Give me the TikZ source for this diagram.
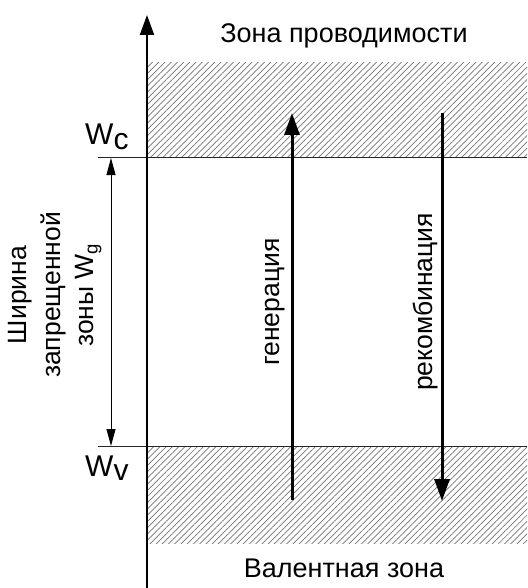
\documentclass[tikz,border=0pt]{standalone}
\usepackage{fontspec}
\setmainfont{Liberation Sans}
\usetikzlibrary{arrows.meta, patterns.meta}

\begin{document}
\begin{tikzpicture}[
    x=1pt, y=-1pt,
    band_fill/.style={pattern={Lines[angle=45, distance=4.4pt, line width=0.7pt]}, pattern color=black!55},
    level_line/.style={draw=black!85, line width=1pt},
    axis_arrow/.style={-{Triangle[length=20pt, width=14pt]}, line width=2pt},
    gap_arrow/.style={{Triangle[length=17pt, width=9pt]}-{Triangle[length=17pt, width=9pt]}, line width=1pt},
    trans_arrow/.style={-{Triangle[length=22pt, width=15pt]}, line width=3pt},
    big_text/.style={font=\fontsize{27}{30}\selectfont, inner sep=0pt},
    level_text/.style={font=\fontsize{30}{30}\selectfont, inner sep=0pt, anchor=base west},
    side_text/.style={font=\fontsize{26.5}{33.5}\selectfont, rotate=90, align=center, inner sep=0pt}
]
\useasboundingbox (0,0) rectangle (527,588);

% Bands
\fill[band_fill] (148,63) rectangle (527,158);
\fill[band_fill] (148,446) rectangle (527,543);

% Levels
\coordinate (wcL) at (98,158);
\coordinate (wcR) at (527,158);
\coordinate (wvL) at (98,446);
\coordinate (wvR) at (527,446);
\draw[level_line] (wcL) -- (wcR);
\draw[level_line] (wvL) -- (wvR);

% Energy axis
\coordinate (axbot) at (147,588);
\coordinate (axtop) at (147,15);
\draw[axis_arrow] (axbot) -- (axtop);

% Gap width
\coordinate (gaptop) at (111,158);
\coordinate (gapbot) at (111,446);
\draw[gap_arrow] (gaptop) -- (gapbot);

% Transitions
\coordinate (genbot) at (292,500);
\coordinate (gentop) at (292,113);
\coordinate (rectop) at (442,113);
\coordinate (recbot) at (442,501);
\draw[trans_arrow] (genbot) -- (gentop);
\draw[trans_arrow] (rectop) -- (recbot);

% Labels
\node[big_text] (cond) at (344,36) {Зона проводимости};
\node[big_text] (val) at (344,568) {Валентная зона};
\node[level_text] (wc) at (85,145) {W\raisebox{-5pt}{c}};
\node[level_text] (wv) at (85,476) {W\raisebox{-4pt}{v}};
\node[side_text] (gap) at (55,295) {Ширина\\запрещенной\\зоны W\textsubscript{g}};
\node[side_text] (gen) at (275,302) {генерация};
\node[side_text] (rec) at (426,302) {рекомбинация};

\end{tikzpicture}
\end{document}
